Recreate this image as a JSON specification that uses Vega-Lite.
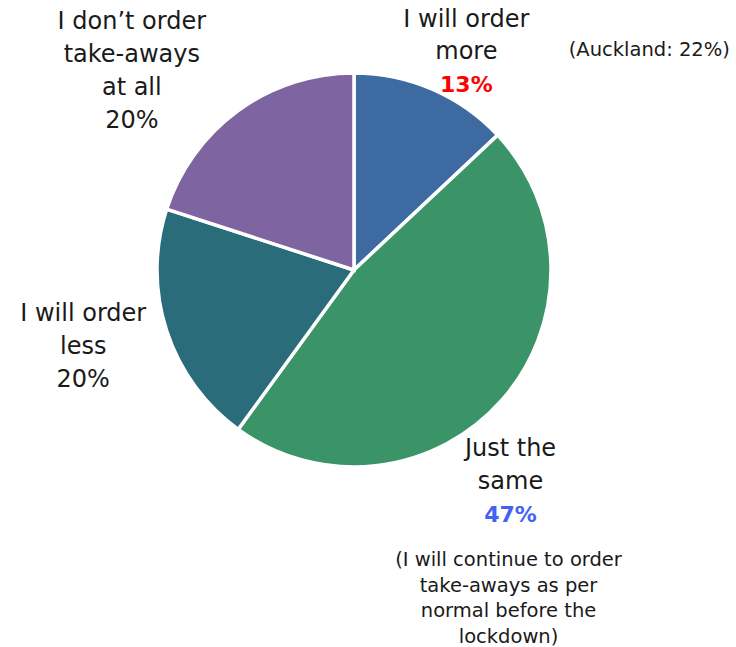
{
  "$schema": "https://vega.github.io/schema/vega-lite/v6.json",
  "width": 708,
  "height": 540,
  "autosize": "none",
  "padding": {"left": 0, "top": 0, "right": 28, "bottom": 107},
  "background": "white",
  "config": {"view": {"stroke": null}, "text": {"font": "DejaVu Sans"}},
  "data": {
    "values": [
      {"rank": 1, "category": "more", "value": 13, "label": "I will order\nmore", "pct": "13%", "note": "(Auckland: 22%)"},
      {"rank": 2, "category": "same", "value": 47, "label": "Just the\nsame", "pct": "47%", "note": "(I will continue to order\ntake-aways as per\nnormal before the\nlockdown)"},
      {"rank": 3, "category": "less", "value": 20, "label": "I will order\nless\n20%", "pct": "20%", "note": ""},
      {"rank": 4, "category": "none", "value": 20, "label": "I don\u2019t order\ntake-aways\nat all\n20%", "pct": "20%", "note": ""}
    ]
  },
  "encoding": {
    "theta": {"field": "value", "type": "quantitative", "stack": true},
    "order": {"field": "rank", "type": "quantitative"}
  },
  "layer": [
    {
      "mark": {"type": "arc", "outerRadius": 197, "stroke": "white", "strokeWidth": 3.5},
      "encoding": {
        "color": {
          "field": "category",
          "type": "nominal",
          "scale": {"domain": ["more", "same", "less", "none"], "range": ["#3D6AA1", "#3A9468", "#2A6C7A", "#7E64A0"]},
          "legend": null
        }
      }
    },
    {
      "mark": {"type": "text", "radius": 230, "dx": 21, "dy": -39, "fontSize": 24, "lineBreak": "\n", "lineHeight": 32, "align": "center", "baseline": "middle", "fill": "#1a1a1a"},
      "encoding": {"text": {"condition": {"test": "datum.category === 'more'", "field": "label"}, "value": ""}}
    },
    {
      "mark": {"type": "text", "radius": 230, "dx": 21, "dy": 26, "fontSize": 22, "fontWeight": "bold", "align": "center", "baseline": "middle", "fill": "#FF0000"},
      "encoding": {"text": {"condition": {"test": "datum.category === 'more'", "field": "pct"}, "value": ""}}
    },
    {
      "mark": {"type": "text", "radius": 230, "dx": 204, "dy": -9, "fontSize": 19.5, "align": "center", "baseline": "middle", "fill": "#1a1a1a"},
      "encoding": {"text": {"condition": {"test": "datum.category === 'more'", "field": "note"}, "value": ""}}
    },
    {
      "mark": {"type": "text", "radius": 230, "dx": -16, "dy": 27, "fontSize": 24, "lineBreak": "\n", "lineHeight": 33, "align": "center", "baseline": "middle", "fill": "#1a1a1a"},
      "encoding": {"text": {"condition": {"test": "datum.category === 'same'", "field": "label"}, "value": ""}}
    },
    {
      "mark": {"type": "text", "radius": 230, "dx": -16, "dy": 93, "fontSize": 22, "fontWeight": "bold", "align": "center", "baseline": "middle", "fill": "#4262F2"},
      "encoding": {"text": {"condition": {"test": "datum.category === 'same'", "field": "pct"}, "value": ""}}
    },
    {
      "mark": {"type": "text", "radius": 230, "dx": -18, "dy": 138, "fontSize": 19.5, "lineBreak": "\n", "lineHeight": 25.7, "align": "center", "baseline": "middle", "fill": "#1a1a1a"},
      "encoding": {"text": {"condition": {"test": "datum.category === 'same'", "field": "note"}, "value": ""}}
    },
    {
      "mark": {"type": "text", "radius": 230, "dx": -52, "dy": -27, "fontSize": 24, "lineBreak": "\n", "lineHeight": 33, "align": "center", "baseline": "middle", "fill": "#1a1a1a"},
      "encoding": {"text": {"condition": {"test": "datum.category === 'less'", "field": "label"}, "value": ""}}
    },
    {
      "mark": {"type": "text", "radius": 230, "dx": -87, "dy": -62, "fontSize": 24, "lineBreak": "\n", "lineHeight": 33, "align": "center", "baseline": "middle", "fill": "#1a1a1a"},
      "encoding": {"text": {"condition": {"test": "datum.category === 'none'", "field": "label"}, "value": ""}}
    }
  ]
}
